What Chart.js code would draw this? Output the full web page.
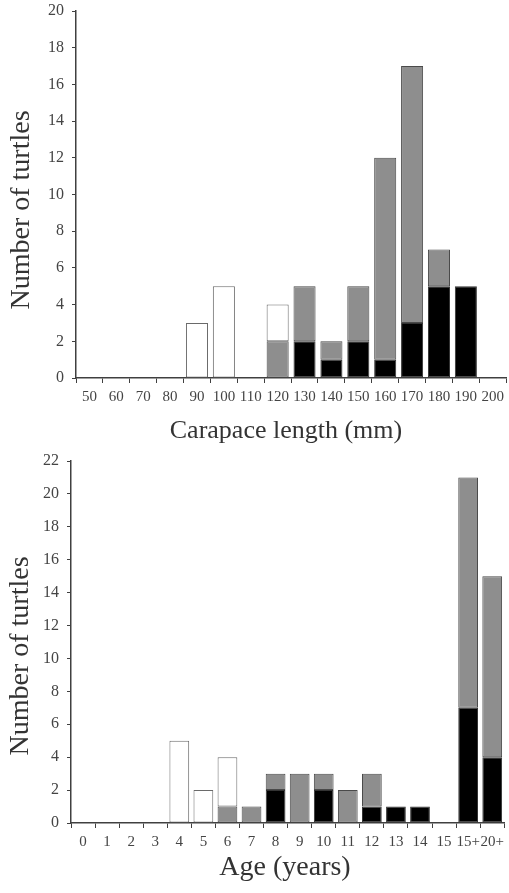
<!DOCTYPE html>
<html>
<head>
<meta charset="utf-8">
<script src="https://cdn.jsdelivr.net/npm/chart.js@4.4.1/dist/chart.umd.min.js"></script>
<style>
  body { margin: 0; background: #fff; }
  .box { position: absolute; left: 0; width: 509px; }
</style>
</head>
<body>
<div class="box" style="top:0;height:452px"><canvas id="lenChart" width="509" height="452"></canvas></div>
<div class="box" style="top:440px;height:453px"><canvas id="ageChart" width="509" height="453"></canvas></div>
<script>
// carapace length classes (mm)
const lengthLabels = ['50','60','70','80','90','100','110','120','130','140','150','160','170','180','190','200'];
const lengthBlack  = [0, 0, 0, 0, 0, 0, 0, 0, 2, 1, 2, 1, 3, 5, 5, 0];
const lengthGray   = [0, 0, 0, 0, 0, 0, 0, 2, 3, 1, 3, 11, 14, 2, 0, 0];
const lengthWhite  = [0, 0, 0, 0, 3, 5, 0, 2, 0, 0, 0, 0, 0, 0, 0, 0];

// age classes (years)
const ageLabels = ['0','1','2','3','4','5','6','7','8','9','10','11','12','13','14','15','15+','20+'];
const ageBlack  = [0, 0, 0, 0, 0, 0, 0, 0, 2, 0, 2, 0, 1, 1, 1, 0, 7, 4];
const ageGray   = [0, 0, 0, 0, 0, 0, 1, 1, 1, 3, 1, 2, 2, 0, 0, 0, 14, 11];
const ageWhite  = [0, 0, 0, 0, 5, 2, 3, 0, 0, 0, 0, 0, 0, 0, 0, 0, 0, 0];

const serif = "'Liberation Serif', 'Times New Roman', serif";
const noZero = arr => arr.map(v => v === 0 ? null : v);

function makeSets(black, gray, white) {
    return [
        { data: noZero(black), backgroundColor: '#000000', borderColor: '#333333' },
        { data: noZero(gray), backgroundColor: '#8e8e8e', borderColor: '#4a4a4a' },
        { data: noZero(white), backgroundColor: '#ffffff', borderColor: '#6a6a6a' }
    ].map(d => Object.assign(d, {
        borderWidth: 1,
        borderSkipped: false,
        barPercentage: 0.82,
        categoryPercentage: 1
    }));
}

// draws the two axis titles where the figure has them
const axisTitles = {
    id: 'axisTitles',
    afterDraw(chart, args, opts) {
        const c = chart.ctx;
        c.save();
        c.fillStyle = '#333';
        c.textAlign = 'center';
        c.textBaseline = 'middle';
        c.font = opts.ySize + 'px ' + serif;
        c.translate(opts.yX, opts.yY);
        c.rotate(-Math.PI / 2);
        c.fillText(opts.yText, 0, 0);
        c.restore();
        c.save();
        c.fillStyle = '#333';
        c.textAlign = 'center';
        c.textBaseline = 'middle';
        c.font = opts.xSize + 'px ' + serif;
        c.fillText(opts.xText, opts.xX, opts.xY);
        c.restore();
    }
};

function makeChart(id, labels, black, gray, white, yMax, yWidth, xHeight, pad, titles) {
    return new Chart(document.getElementById(id).getContext('2d'), {
        type: 'bar',
        data: { labels: labels, datasets: makeSets(black, gray, white) },
        plugins: [axisTitles],
        options: {
            responsive: false,
            animation: false,
            layout: { padding: pad },
            plugins: { legend: { display: false }, tooltip: { enabled: false }, axisTitles: titles },
            scales: {
                x: {
                    stacked: true,
                    offset: true,
                    afterFit: s => { s.height = xHeight; },
                    border: { color: '#404040', width: 1.5 },
                    grid: { offset: true, drawOnChartArea: false, drawTicks: true, tickLength: 5, color: '#404040' },
                    ticks: { autoSkip: false, maxRotation: 0, padding: 5, color: '#444', font: { family: serif, size: 15 } }
                },
                y: {
                    stacked: true,
                    min: 0,
                    max: yMax,
                    afterFit: s => { s.width = yWidth; s.paddingTop = 0; s.paddingBottom = 0; },
                    border: { color: '#404040', width: 1.5 },
                    grid: { drawOnChartArea: false, drawTicks: true, tickLength: 4, color: '#404040' },
                    ticks: {
                        stepSize: 1,
                        padding: 8,
                        color: '#444',
                        font: { family: serif, size: 16 },
                        callback: v => (v % 2 === 0 ? v : '')
                    }
                }
            }
        }
    });
}

makeChart('lenChart', lengthLabels, lengthBlack, lengthGray, lengthWhite, 20, 76, 74,
    { top: 11, right: 0, left: 0, bottom: 0 },
    { yText: 'Number of turtles', ySize: 28, yX: 22, yY: 210,
      xText: 'Carapace length (mm)', xSize: 26, xX: 286, xY: 431 });

makeChart('ageChart', ageLabels, ageBlack, ageGray, ageWhite, 22, 71, 70,
    { top: 21, right: 2, left: 0, bottom: 0 },
    { yText: 'Number of turtles', ySize: 28, yX: 21, yY: 216,
      xText: 'Age (years)', xSize: 28, xX: 285, xY: 428 });
</script>
</body>
</html>
